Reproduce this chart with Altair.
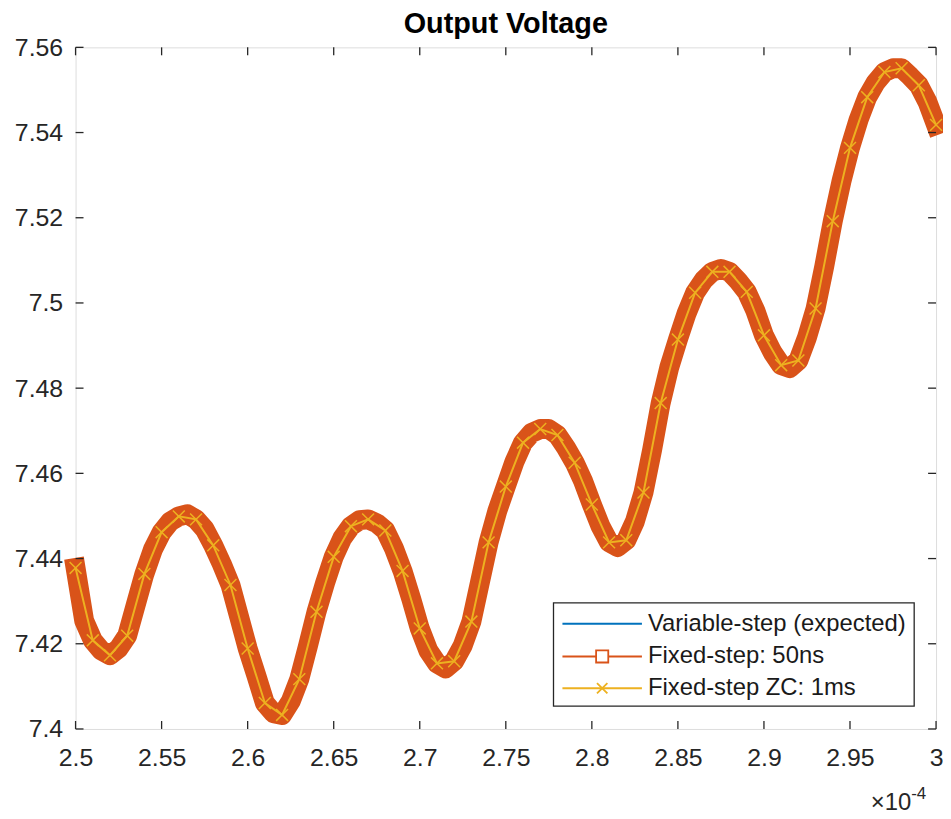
import altair as alt
import pandas as pd

FONT = "Liberation Sans"
AX = "#262626"
C_BLUE = "#0072BD"
C_ORANGE = "#D95319"
C_YELLOW = "#EDB120"

title_text = "Output Voltage"
series_names = ["Variable-step (expected)", "Fixed-step: 50ns", "Fixed-step ZC: 1ms"]

x_ticks = [2.5, 2.55, 2.6, 2.65, 2.7, 2.75, 2.8, 2.85, 2.9, 2.95, 3.0]
y_ticks = [7.4, 7.42, 7.44, 7.46, 7.48, 7.5, 7.52, 7.54, 7.56]

# time in units of 1e-4 s
t_fixed = [2.500, 2.505, 2.510, 2.515, 2.520, 2.525, 2.530, 2.535, 2.540, 2.545,
           2.550, 2.555, 2.560, 2.565, 2.570, 2.575, 2.580, 2.585, 2.590, 2.595,
           2.600, 2.605, 2.610, 2.615, 2.620, 2.625, 2.630, 2.635, 2.640, 2.645,
           2.650, 2.655, 2.660, 2.665, 2.670, 2.675, 2.680, 2.685, 2.690, 2.695,
           2.700, 2.705, 2.710, 2.715, 2.720, 2.725, 2.730, 2.735, 2.740, 2.745,
           2.750, 2.755, 2.760, 2.765, 2.770, 2.775, 2.780, 2.785, 2.790, 2.795,
           2.800, 2.805, 2.810, 2.815, 2.820, 2.825, 2.830, 2.835, 2.840, 2.845,
           2.850, 2.855, 2.860, 2.865, 2.870, 2.875, 2.880, 2.885, 2.890, 2.895,
           2.900, 2.905, 2.910, 2.915, 2.920, 2.925, 2.930, 2.935, 2.940, 2.945,
           2.950, 2.955, 2.960, 2.965, 2.970, 2.975, 2.980, 2.985, 2.990, 2.995,
           3.000]
v_fixed = [7.4378, 7.4254, 7.4208, 7.4184, 7.4173, 7.4189, 7.4219, 7.4292, 7.4364, 7.4422,
           7.4462, 7.4487, 7.4499, 7.4504, 7.4492, 7.4469, 7.4431, 7.4387, 7.4338, 7.4264,
           7.4189, 7.4126, 7.4061, 7.4037, 7.4033, 7.4065, 7.4117, 7.4194, 7.4275, 7.4343,
           7.4404, 7.4448, 7.4476, 7.4490, 7.4492, 7.4483, 7.4466, 7.4424, 7.4371, 7.4306,
           7.4236, 7.4184, 7.4154, 7.4142, 7.4159, 7.4196, 7.4252, 7.4345, 7.4438, 7.4511,
           7.4569, 7.4627, 7.4672, 7.4695, 7.4704, 7.4704, 7.4690, 7.4660, 7.4625, 7.4581,
           7.4527, 7.4476, 7.4438, 7.4427, 7.4443, 7.4487, 7.4555, 7.4655, 7.4765, 7.4849,
           7.4914, 7.4975, 7.5024, 7.5054, 7.5073, 7.5080, 7.5073, 7.5052, 7.5026, 7.4982,
           7.4924, 7.4884, 7.4854, 7.4847, 7.4865, 7.4919, 7.4987, 7.5085, 7.5192, 7.5285,
           7.5364, 7.5430, 7.5483, 7.5518, 7.5542, 7.5551, 7.5551, 7.5532, 7.5511, 7.5472,
           7.5418]

t_zc = [2.50, 2.51, 2.52, 2.53, 2.54, 2.55, 2.56, 2.57, 2.58, 2.59,
        2.60, 2.61, 2.62, 2.63, 2.64, 2.65, 2.66, 2.67, 2.68, 2.69,
        2.70, 2.71, 2.72, 2.73, 2.74, 2.75, 2.76, 2.77, 2.78, 2.79,
        2.80, 2.81, 2.82, 2.83, 2.84, 2.85, 2.86, 2.87, 2.88, 2.89,
        2.90, 2.91, 2.92, 2.93, 2.94, 2.95, 2.96, 2.97, 2.98, 2.99,
        3.00]
v_zc = [7.4378, 7.4208, 7.4173, 7.4219, 7.4364, 7.4462, 7.4499, 7.4492, 7.4431, 7.4338,
        7.4189, 7.4061, 7.4033, 7.4117, 7.4275, 7.4404, 7.4476, 7.4492, 7.4466, 7.4371,
        7.4236, 7.4154, 7.4159, 7.4252, 7.4438, 7.4569, 7.4672, 7.4704, 7.4690, 7.4625,
        7.4527, 7.4438, 7.4443, 7.4555, 7.4765, 7.4914, 7.5024, 7.5073, 7.5073, 7.5026,
        7.4924, 7.4854, 7.4865, 7.4987, 7.5192, 7.5364, 7.5483, 7.5542, 7.5551, 7.5511,
        7.5418]

W, H = 866, 686

df_fixed = pd.DataFrame({"t": t_fixed, "v": v_fixed})
df_zc = pd.DataFrame({"t": t_zc, "v": v_zc})
df_xt = pd.DataFrame({"t": x_ticks})
df_yt = pd.DataFrame({"v": y_ticks})
dummy = pd.DataFrame({"d": [0]})

xs = alt.Scale(domain=[2.5, 3.0], nice=False, zero=False)
ys = alt.Scale(domain=[7.4, 7.56], nice=False, zero=False)

x_axis = alt.Axis(values=x_ticks, format=".2~f", labelFont=FONT, labelFontSize=25,
                  labelColor=AX, ticks=False, domain=False, grid=False, labelPadding=17,
                  title=None, labelFlush=False, labelOverlap=False)
y_axis = alt.Axis(values=y_ticks, format=".2~f", labelFont=FONT, labelFontSize=25,
                  labelColor=AX, ticks=False, domain=False, grid=False, labelPadding=13,
                  title=None, labelFlush=False, labelOverlap=False)


def X():
    return alt.X("t:Q", scale=xs, axis=x_axis)


def Y():
    return alt.Y("v:Q", scale=ys, axis=y_axis)


blue = alt.Chart(df_fixed).mark_line(color=C_BLUE, strokeWidth=2).encode(x=X(), y=Y())
band = alt.Chart(df_fixed).mark_line(color=C_ORANGE, strokeWidth=20, strokeJoin="round",
                                     strokeCap="square").encode(x=X(), y=Y())
zc_line = alt.Chart(df_zc).mark_line(color=C_YELLOW, strokeWidth=2).encode(x=X(), y=Y())
XSHAPE = "M-1,-1L1,1M-1,1L1,-1"
zc_pts = alt.Chart(df_zc).mark_point(shape=XSHAPE, size=144, color=C_YELLOW, strokeWidth=1.5,
                                     filled=False, opacity=1).encode(x=X(), y=Y())

tick_kw = dict(color=AX, strokeWidth=1.3)
t_bottom = alt.Chart(df_xt).mark_rule(**tick_kw).encode(x=X(), y=alt.value(H), y2=alt.value(H - 8))
t_top = alt.Chart(df_xt).mark_rule(**tick_kw).encode(x=X(), y=alt.value(0), y2=alt.value(8))
t_left = alt.Chart(df_yt).mark_rule(**tick_kw).encode(y=Y(), x=alt.value(0), x2=alt.value(8))
t_right = alt.Chart(df_yt).mark_rule(**tick_kw).encode(y=Y(), x=alt.value(W), x2=alt.value(W - 8))

leg_box = alt.Chart(dummy).mark_rect(fill="white", stroke=AX, strokeWidth=1.3).encode(
    x=alt.value(481), x2=alt.value(844), y=alt.value(559), y2=alt.value(663))

rows_y = [580, 613, 645]
colors = [C_BLUE, C_ORANGE, C_YELLOW]
legend_layers = [leg_box]
for i in range(3):
    legend_layers.append(alt.Chart(dummy).mark_rule(color=colors[i], strokeWidth=2).encode(
        x=alt.value(490), x2=alt.value(570), y=alt.value(rows_y[i])))
    legend_layers.append(alt.Chart(dummy).mark_text(
        align="left", baseline="middle", font=FONT, fontSize=24, color="#1a1a1a").encode(
        x=alt.value(576), y=alt.value(rows_y[i]), text=alt.value(series_names[i])))
legend_layers.append(alt.Chart(dummy).mark_point(shape="square", size=150, filled=True, fill="white",
                                                 stroke=C_ORANGE, strokeWidth=1.8, opacity=1).encode(
    x=alt.value(530), y=alt.value(rows_y[1])))
legend_layers.append(alt.Chart(dummy).mark_point(shape=XSHAPE, size=110, filled=False, color=C_YELLOW,
                                                 strokeWidth=1.8, opacity=1).encode(
    x=alt.value(530), y=alt.value(rows_y[2])))

title = alt.Chart(dummy).mark_text(align="center", baseline="alphabetic", font=FONT, fontSize=29,
                                   fontWeight="bold", color="#000000").encode(
    x=alt.value(W / 2), y=alt.value(-14), text=alt.value(title_text))
exp_base = alt.Chart(dummy).mark_text(align="right", baseline="alphabetic", font=FONT, fontSize=24,
                                      color=AX).encode(
    x=alt.value(841), y=alt.value(768), text=alt.value("×10"))
exp_sup = alt.Chart(dummy).mark_text(align="left", baseline="alphabetic", font=FONT, fontSize=17,
                                     color=AX).encode(
    x=alt.value(841), y=alt.value(756), text=alt.value("-4"))

chart = alt.layer(
    blue, band, zc_line, zc_pts, t_bottom, t_top, t_left, t_right,
    *legend_layers, title, exp_base, exp_sup
).properties(
    width=W, height=H,
    padding={"left": 68, "top": 37, "right": 7, "bottom": 86},
    autosize="none",
).configure_view(stroke=AX, strokeWidth=1.3).configure(background="white")

chart.save("out.html", embed_options={"renderer": "svg", "actions": False})
